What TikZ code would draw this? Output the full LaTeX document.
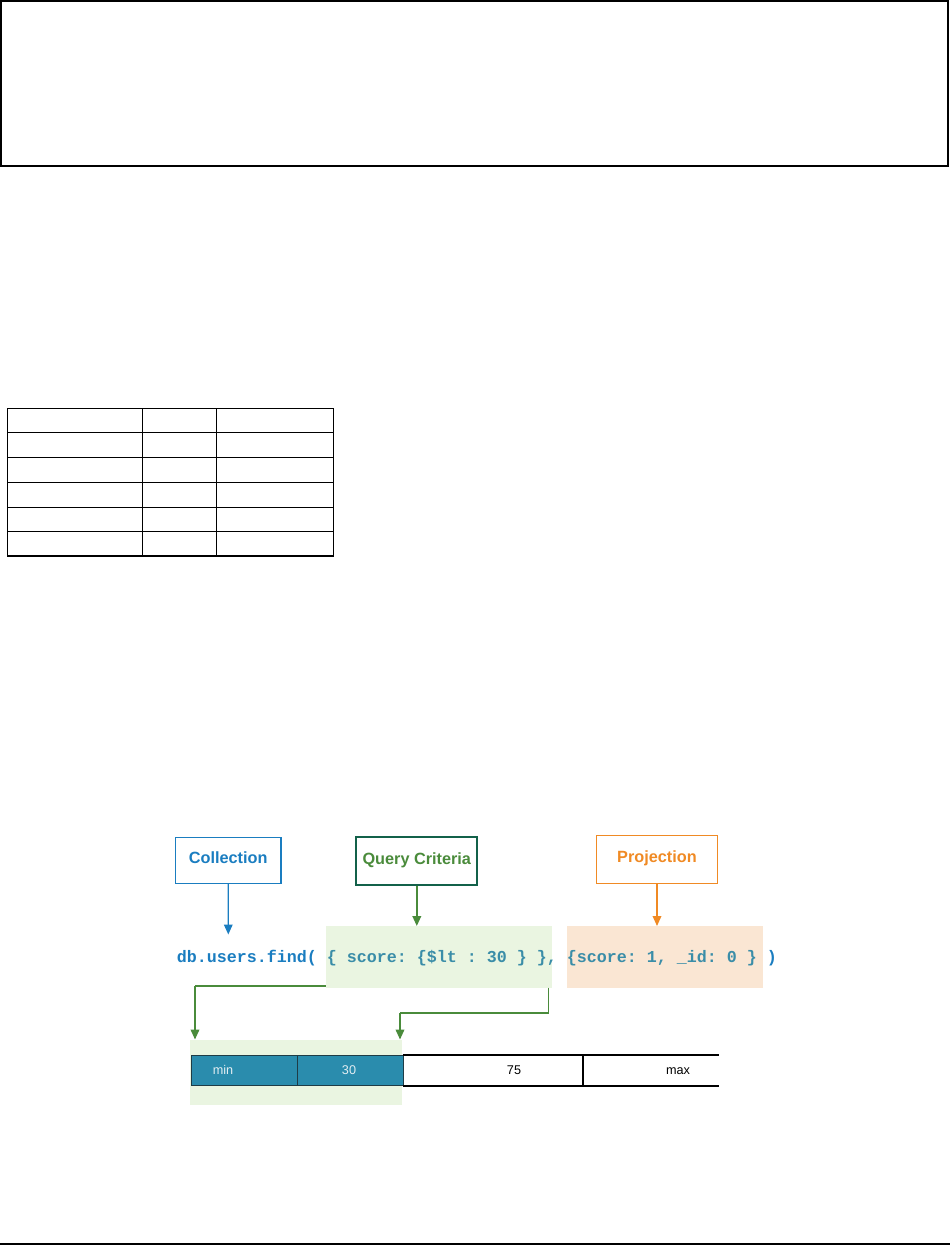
\documentclass[tikz,border=0pt]{standalone}
\usepackage{fontspec}
\setmainfont{Liberation Sans}
\setmonofont{Liberation Mono}
\usetikzlibrary{arrows.meta}
\definecolor{cblue}{HTML}{1A7DC0}
\definecolor{cgreen}{HTML}{4A8B3B}
\definecolor{cdkgreen}{HTML}{13614A}
\definecolor{cteal}{HTML}{3A8DA8}
\definecolor{corange}{HTML}{F08A24}
\definecolor{gfill}{HTML}{EAF5E1}
\definecolor{ofill}{HTML}{FAE6D3}
\definecolor{barfill}{HTML}{2A8CAD}
\definecolor{barline}{HTML}{1E3C46}
\definecolor{bartext}{HTML}{E2EDF2}
\tikzset{
  lbl/.style={draw, inner sep=0pt, text height=9pt, text depth=4pt, font=\bfseries\fontsize{12.2}{14}\selectfont},
  hl/.style={inner sep=0pt, draw=none},
  conn/.style={line width=1.2pt, -{Triangle[length=7.5pt,width=6.5pt]}},
  gline/.style={draw=cgreen, line width=1.2pt},
  cell/.style={inner sep=0pt, minimum height=30*0.75pt},
  tcell/.style={cell, fill=barfill, draw=barline, line width=1pt},
  celltxt/.style={inner sep=0pt, anchor=base, font=\fontsize{9.5}{11}\selectfont},
  tab/.style={line width=1.2pt},
}
\begin{document}
\begin{tikzpicture}[x=0.75pt,y=-0.75pt]
\useasboundingbox (0,0) rectangle (950,1245);
% top frame
\draw[line width=1.1pt] (1,1) rectangle (948,166);
% table
\draw[tab] (7.3,408.3) rectangle (333.3,556);
\foreach \yy in {432.3,457.3,482.3,507.3,531.3} \draw[tab] (7.3,\yy) -- (333.3,\yy);
\foreach \xx in {142.3,216.3} \draw[tab] (\xx,408.3) -- (\xx,556);
% bottom rule
\draw[line width=1.5pt] (0,1244) -- (950,1244);

% highlight regions
\node[hl, fill=gfill, minimum width=226.3*0.75pt, minimum height=61.7*0.75pt, anchor=north west] (qhl) at (325.7,926) {};
\node[hl, fill=ofill, minimum width=196*0.75pt, minimum height=61.7*0.75pt, anchor=north west] (phl) at (567,926) {};
\node[hl, fill=gfill, minimum width=212*0.75pt, minimum height=65*0.75pt, anchor=north west] (bhl) at (190,1039.5) {};

% code text
\node[anchor=base west, inner sep=0pt, font=\ttfamily\bfseries\fontsize{12.5}{14}\selectfont\frenchspacing] (code) at (176.5,962.3)
 {\textcolor{cblue}{db.users.find(} \textcolor{cteal}{\{ score: \{\$lt : 30 \} \},} \textcolor{cteal}{\{score: 1, \_id: 0 \}} \textcolor{cblue}{)}};

% labels
\node[lbl, draw=cblue, line width=1pt, text=cblue, minimum width=105.7*0.75pt, minimum height=45.6*0.75pt] (coll) at (228.2,860.5) {Collection};
\node[lbl, draw=cdkgreen, line width=1.5pt, text=cgreen, minimum width=121*0.75pt, minimum height=48*0.75pt] (qc) at (416.8,860.7) {Query Criteria};
\node[lbl, draw=corange, line width=1pt, text=corange, minimum width=121.4*0.75pt, minimum height=48.4*0.75pt] (proj) at (657,859.5) {Projection};

\coordinate (collend) at (228.3,934.5);
\draw[conn, draw=cblue, fill=cblue, line width=1pt] (coll.south) -- (collend);
\draw[conn, draw=cgreen, fill=cgreen] (qc.south) -- (qc.south |- qhl.north);
\draw[conn, draw=corange, fill=corange, line width=1pt] (proj.south) -- (proj.south |- phl.north);

% bar
\node[tcell, minimum width=106*0.75pt, anchor=north west] (cmin) at (190.5,1055) {};
\node[tcell, minimum width=106*0.75pt, anchor=north west] (c30) at (296.5,1055) {};
\node[cell, minimum width=180*0.75pt, anchor=north west] (c75) at (402.5,1055) {};
\node[cell, minimum width=136*0.75pt, anchor=north west] (cmax) at (582.5,1055) {};
\draw[line width=1.5pt] (c75.north west) -- (cmax.north east);
\draw[line width=1.5pt] (c75.south west) -- (cmax.south east);
\draw[line width=1.5pt] (cmax.north west) -- (cmax.south west);
\node[celltxt, text=bartext] (tmin) at (223,1074.5) {min};
\node[celltxt, text=bartext] (t30) at (349,1074.5) {30};
\node[celltxt] (t75) at (514,1074.5) {75};
\node[celltxt] (tmax) at (678,1074.5) {max};

% green connectors
\coordinate (gl) at (195,986);
\coordinate (gr) at (548.5,1013);
\draw[gline] (qhl.south west |- gl) -- (gl);
\draw[conn, draw=cgreen, fill=cgreen] (gl) -- (gl |- bhl.north);
\draw[gline] (548.5,987.7) -- (gr) -- (400,1013);
\draw[conn, draw=cgreen, fill=cgreen] (400,1013) -- (400,1039.5);
\end{tikzpicture}
\end{document}
